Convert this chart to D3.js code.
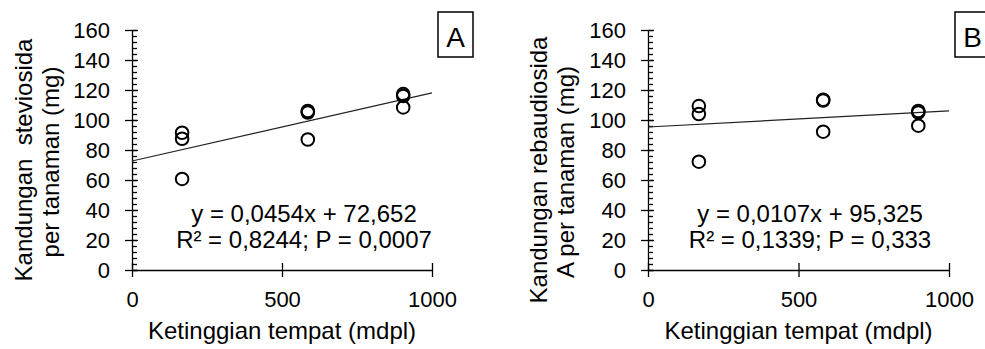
<!DOCTYPE html>
<html>
<head>
<meta charset="utf-8">
<script src="https://cdn.jsdelivr.net/npm/d3@7"></script>
<style>
  body { margin: 0; background: #fff; }
  svg { display: block; font-family: "Liberation Sans", Arial, sans-serif; }
  text { white-space: pre; }
</style>
</head>
<body>
<svg width="985" height="349"></svg>
<script>
// panel A - steviosida
const altA = [167, 167, 167, 586, 586, 586, 904, 904, 904];
const valA = [91.5, 87.5, 60.7, 106, 105, 87, 117.3, 116, 108.4];
const eqA = ["y = 0,0454x + 72,652", "R\u00b2 = 0,8244; P = 0,0007"];
const fitA = [0.0454, 72.652];
const titleA = ["Kandungan  steviosida", "per tanaman (mg)"];

// panel B - rebaudiosida A
const altB = [169, 169, 169, 582, 582, 582, 898, 898, 898];
const valB = [109.3, 104, 72.2, 113.5, 113, 92.2, 106, 105, 96.2];
const eqB = ["y = 0,0107x + 95,325", "R\u00b2 = 0,1339; P = 0,333"];
const fitB = [0.0107, 95.325];
const titleB = ["Kandungan rebaudiosida", "A per tanaman (mg)"];

const xTicks = [0, 500, 1000];
const yTicks = [0, 20, 40, 60, 80, 100, 120, 140, 160];
const yMinor = d3.range(0, 161, 4);
const xTitle = "Ketinggian tempat (mdpl)";

const svg = d3.select("svg");

function drawPanel(opt) {
  const x = d3.scaleLinear().domain([0, 1000]).range([opt.x0, opt.x1]);
  const y = d3.scaleLinear().domain([0, 160]).range([270, 30]);
  const g = svg.append("g");

  // minor ticks on the inside of the y axis
  g.append("g").attr("transform", `translate(${opt.x0},0)`)
    .call(d3.axisRight(y).tickValues(yMinor).tickSize(5).tickFormat(""))
    .call(a => a.select(".domain").remove());
  g.append("g").attr("transform", `translate(${opt.x0},0)`)
    .call(d3.axisRight(y).tickValues(yTicks).tickSize(6).tickFormat(""))
    .call(a => a.select(".domain").remove());
  const ya = g.append("g").attr("transform", `translate(${opt.x0},0)`)
    .call(d3.axisLeft(y).tickValues(yTicks).tickSizeInner(7).tickSizeOuter(0).tickPadding(15));
  ya.selectAll("text").attr("font-size", 22).attr("dy", "0.36em");

  // x axis, major ticks cross the line
  g.append("g").attr("transform", "translate(0,270)")
    .call(d3.axisTop(x).tickValues(xTicks).tickSize(7).tickFormat(""))
    .call(a => a.select(".domain").remove());
  const xa = g.append("g").attr("transform", "translate(0,270)")
    .call(d3.axisBottom(x).tickValues(xTicks).tickFormat(d3.format("d"))
      .tickSizeInner(7).tickSizeOuter(0).tickPadding(0));
  xa.selectAll("text").attr("font-size", 22).attr("y", 37).attr("dy", 0);

  g.selectAll(".domain, .tick line").attr("stroke", "#000").attr("stroke-width", 1.3);
  g.selectAll(".tick text").attr("fill", "#000").attr("font-family", "Liberation Sans, Arial, sans-serif");

  // trend line
  g.append("line")
    .attr("x1", x(0)).attr("y1", y(opt.fit[1]))
    .attr("x2", x(1000)).attr("y2", y(opt.fit[0] * 1000 + opt.fit[1]))
    .attr("stroke", "#222").attr("stroke-width", 1.2);

  // points
  g.selectAll("circle").data(opt.alt).join("circle")
    .attr("cx", d => x(d))
    .attr("cy", (d, i) => y(opt.val[i]))
    .attr("r", 6.3)
    .attr("fill", "none").attr("stroke", "#000").attr("stroke-width", 2);

  // equation
  g.selectAll("text.eq").data(opt.eq).join("text").attr("class", "eq")
    .attr("x", opt.eqX).attr("y", (d, i) => 222 + i * 26)
    .attr("text-anchor", "middle").attr("font-size", 24).text(d => d);

  // axis titles
  g.append("text").attr("x", (opt.x0 + opt.x1) / 2).attr("y", 339)
    .attr("text-anchor", "middle").attr("font-size", 24).text(xTitle);
  g.selectAll("text.yt").data(opt.title).join("text").attr("class", "yt")
    .attr("transform", (d, i) => `translate(${opt.tx + i * 27},${opt.ty + i * 2}) rotate(-90)`)
    .attr("text-anchor", "middle").attr("font-size", 24).text(d => d);

  // panel letter
  g.append("rect").attr("x", opt.bx).attr("y", 12).attr("width", 35).attr("height", 45)
    .attr("fill", "none").attr("stroke", "#000").attr("stroke-width", 1.5);
  g.append("text").attr("x", opt.bx + 17.5).attr("y", 47).attr("text-anchor", "middle")
    .attr("font-size", 28).text(opt.letter);
}

drawPanel({ x0: 132, x1: 432, alt: altA, val: valA, fit: fitA, eq: eqA, eqX: 304,
  title: titleA, tx: 32, ty: 160, bx: 438, letter: "A" });
drawPanel({ x0: 648, x1: 949, alt: altB, val: valB, fit: fitB, eq: eqB, eqX: 810,
  title: titleB, tx: 547, ty: 170, bx: 955, letter: "B" });
</script>
</body>
</html>
